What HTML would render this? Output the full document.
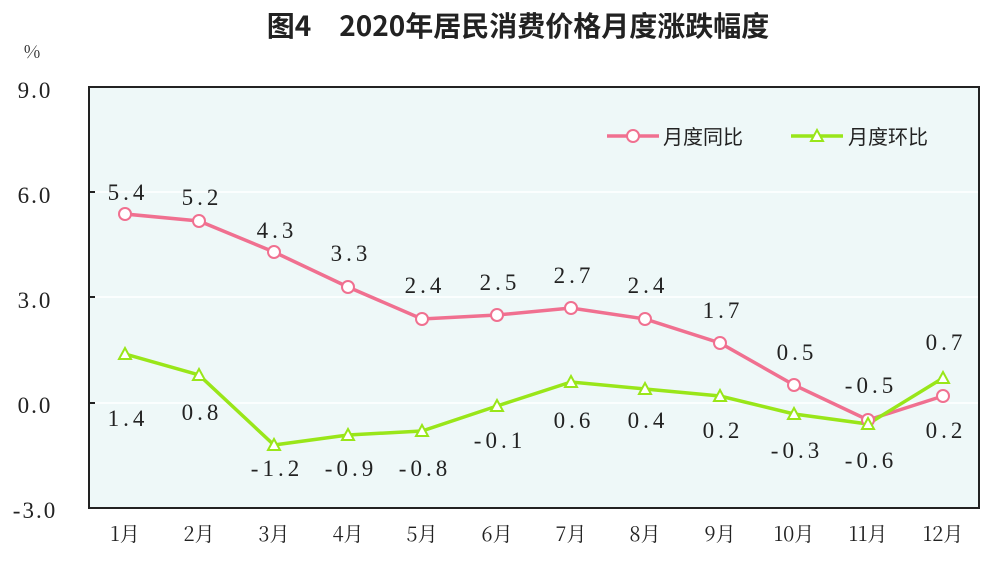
<!DOCTYPE html><html><head><meta charset="utf-8"><style>body{margin:0;background:#fff}svg{display:block}</style></head><body>
<svg width="1000" height="568" xmlns="http://www.w3.org/2000/svg">
<text x="518" y="36" text-anchor="middle" font-family="'Noto Sans CJK SC',sans-serif" font-size="28" font-weight="bold" fill="#222">图4　2020年居民消费价格月度涨跌幅度</text>
<text x="32" y="58" text-anchor="middle" font-family="'Noto Serif CJK SC',serif" font-size="18" fill="#222">%</text>
<rect x="89" y="87" width="890" height="421" fill="#eef8f8"/>
<g stroke="#fff" stroke-width="1.5"><line x1="89" y1="192" x2="979" y2="192"/><line x1="89" y1="297" x2="979" y2="297"/><line x1="89" y1="403" x2="979" y2="403"/></g>
<rect x="89" y="87" width="890" height="421" fill="none" stroke="#222" stroke-width="2"/>
<g stroke="#222" stroke-width="2"><line x1="89" y1="192" x2="95" y2="192"/><line x1="89" y1="297" x2="95" y2="297"/><line x1="89" y1="403" x2="95" y2="403"/></g>
<g font-family="'Liberation Serif',serif" font-size="23" fill="#222" text-anchor="middle" letter-spacing="2">
<text x="35" y="98">9.0</text><text x="35" y="203">6.0</text><text x="35" y="308">3.0</text><text x="35" y="413">0.0</text><text x="35" y="518">-3.0</text>
</g>
<g font-family="'Noto Serif CJK SC',serif" font-size="20" fill="#222" text-anchor="middle">
<text x="125" y="541">1月</text><text x="199" y="541">2月</text><text x="274" y="541">3月</text><text x="348" y="541">4月</text><text x="422" y="541">5月</text><text x="497" y="541">6月</text><text x="571" y="541">7月</text><text x="645" y="541">8月</text><text x="720" y="541">9月</text><text x="794" y="541">10月</text><text x="868" y="541">11月</text><text x="943" y="541">12月</text>
</g>
<polyline fill="none" stroke="#f07090" stroke-width="3.5" points="125,214 199,221 274,252 348,287 422,319 497,315 571,308 645,319 720,343 794,385 868,420 943,396"/>
<polyline fill="none" stroke="#99e619" stroke-width="3.5" points="125,354 199,375 274,445 348,435 422,431 497,406 571,382 645,389 720,396 794,414 868,424 943,378"/>
<g fill="#fff" stroke="#f07090" stroke-width="2">
<circle cx="125" cy="214" r="6"/><circle cx="199" cy="221" r="6"/><circle cx="274" cy="252" r="6"/><circle cx="348" cy="287" r="6"/><circle cx="422" cy="319" r="6"/><circle cx="497" cy="315" r="6"/><circle cx="571" cy="308" r="6"/><circle cx="645" cy="319" r="6"/><circle cx="720" cy="343" r="6"/><circle cx="794" cy="385" r="6"/><circle cx="868" cy="420" r="6"/><circle cx="943" cy="396" r="6"/>
</g>
<g fill="#fff" stroke="#99e619" stroke-width="2">
<path d="M125,348l6,11h-12z"/><path d="M199,369l6,11h-12z"/><path d="M274,439l6,11h-12z"/><path d="M348,429l6,11h-12z"/><path d="M422,425l6,11h-12z"/><path d="M497,400l6,11h-12z"/><path d="M571,376l6,11h-12z"/><path d="M645,383l6,11h-12z"/><path d="M720,390l6,11h-12z"/><path d="M794,408l6,11h-12z"/><path d="M868,418l6,11h-12z"/><path d="M943,372l6,11h-12z"/>
</g>
<g font-family="'Liberation Serif',serif" font-size="23" fill="#222" text-anchor="middle" letter-spacing="4">
<text x="128" y="200">5.4</text><text x="202" y="205">5.2</text><text x="277" y="238">4.3</text><text x="351" y="261">3.3</text><text x="425" y="293">2.4</text><text x="500" y="290">2.5</text><text x="574" y="283">2.7</text><text x="648" y="293">2.4</text><text x="723" y="318">1.7</text><text x="797" y="360">0.5</text><text x="871" y="393">-0.5</text><text x="946" y="350">0.7</text>
<text x="128" y="426">1.4</text><text x="202" y="420">0.8</text><text x="277" y="476">-1.2</text><text x="351" y="476">-0.9</text><text x="425" y="476">-0.8</text><text x="500" y="448">-0.1</text><text x="574" y="428">0.6</text><text x="648" y="428">0.4</text><text x="723" y="438">0.2</text><text x="797" y="458">-0.3</text><text x="871" y="468">-0.6</text><text x="946" y="438">0.2</text>
</g>
<line x1="607" y1="136" x2="659" y2="136" stroke="#f07090" stroke-width="3.5"/><circle cx="633" cy="136" r="6" fill="#fff" stroke="#f07090" stroke-width="2"/>
<text x="663" y="144" font-family="'Noto Sans CJK SC',sans-serif" font-size="20" fill="#222">月度同比</text>
<line x1="791" y1="136" x2="843" y2="136" stroke="#99e619" stroke-width="3.5"/><path d="M817,130l6,11h-12z" fill="#fff" stroke="#99e619" stroke-width="2"/>
<text x="848" y="144" font-family="'Noto Sans CJK SC',sans-serif" font-size="20" fill="#222">月度环比</text>
</svg></body></html>
